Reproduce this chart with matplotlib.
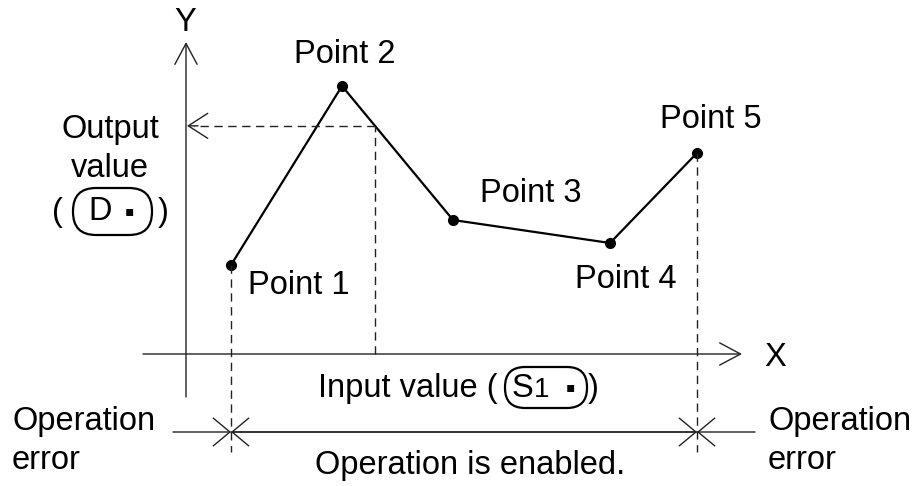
import numpy as np
import matplotlib
matplotlib.use("Agg")
import matplotlib.pyplot as plt
from matplotlib.patches import FancyBboxPatch

plt.rcParams["font.family"] = ["Liberation Sans", "DejaVu Sans"]

# ── DATA (input / output values, origin at axis crossing) ──
point_labels = ["Point 1", "Point 2", "Point 3", "Point 4", "Point 5"]
input_values = [45, 156, 267, 424, 511]
output_values = [89, 268, 134, 111, 201]
lookup_input = 189   # dashed read-out example

FS = 23.5
LW_AX = 1.0

fig = plt.figure(figsize=(9.16, 4.86), dpi=100)
ax = fig.add_axes([0, 0, 1, 1])
ax.set_xlim(-186, 730)
ax.set_ylim(-132, 354)
ax.set_axis_off()

def arrow(x0, y0, x1, y1, hl=0.7, hw=0.45):
    ax.annotate("", xy=(x1, y1), xytext=(x0, y0),
                arrowprops=dict(arrowstyle=f"->,head_length={hl},head_width={hw}",
                                lw=LW_AX, color="#222222", mutation_scale=20,
                                shrinkA=0, shrinkB=0))

# axes
arrow(0, -43, 0, 312, hl=0.75, hw=0.4)
arrow(-43, 0, 556, 0, hl=0.75, hw=0.4)
ax.text(-1, 331, "Y", fontsize=FS, ha="center", va="center")
ax.text(589, -3, "X", fontsize=FS, ha="center", va="center")

# polyline
ax.plot(input_values, output_values, color="black", lw=1.6,
        marker="o", markersize=7, solid_joinstyle="miter")

dash = dict(color="#222222", lw=1.0, dashes=(6, 4))

# read-out dashed lines
out_val = np.interp(lookup_input, input_values, output_values)
ax.plot([lookup_input, lookup_input], [0, out_val], **dash)
ax.plot([lookup_input, 8], [out_val, out_val], **dash)
arrow(12, out_val, 1, out_val, hl=0.7, hw=0.45)

# range limits
x_lo, x_hi = input_values[0], input_values[-1]
ax.plot([x_lo, x_lo], [output_values[0], -98], **dash)
ax.plot([x_hi, x_hi], [output_values[-1], -98], **dash)

# enabled range line with X marks
y_rng = -78
arrow(x_hi, y_rng, x_lo, y_rng, hl=0.6, hw=0.5)
arrow(x_lo, y_rng, x_hi, y_rng, hl=0.6, hw=0.5)
arrow(-13, y_rng, x_lo, y_rng, hl=0.6, hw=0.5)
arrow(569, y_rng, x_hi, y_rng, hl=0.6, hw=0.5)

# point labels
label_pos = [(62, 69, "left"), (159, 299, "center"), (294, 161, "left"),
             (389, 74, "left"), (474, 234, "left")]
for (lx, ly, ha), lab in zip(label_pos, point_labels):
    ax.text(lx, ly, lab, fontsize=FS, ha=ha, va="center")

# output value label
ax.text(-76, 205, "Output\nvalue", fontsize=FS, ha="center", va="center",
        linespacing=1.3)
ax.text(-129, 142, "(", fontsize=FS, ha="center", va="center")
ax.text(-23, 142, ")", fontsize=FS, ha="center", va="center")
ax.add_patch(FancyBboxPatch((-113, 119), 79, 47,
                            boxstyle="round,pad=0,rounding_size=23",
                            fc="none", ec="black", lw=1.6))
ax.text(-86, 142, "D", fontsize=FS, ha="center", va="center")
ax.text(-57, 143, "\u25aa", fontsize=10, ha="center", va="center",
        family=["DejaVu Sans"])

# input value label
ax.text(312, -34, "Input value (", fontsize=FS, ha="right", va="center")
ax.text(407, -34, ")", fontsize=FS, ha="center", va="center")
ax.add_patch(FancyBboxPatch((319, -54), 82, 41,
                            boxstyle="round,pad=0,rounding_size=20",
                            fc="none", ec="black", lw=1.6))
ax.text(347, -43, "S", fontsize=FS, ha="right", va="baseline")
ax.text(348, -43, "1", fontsize=FS * 0.85, ha="left", va="baseline")
ax.text(384, -33, "\u25aa", fontsize=10, ha="center", va="center",
        family=["DejaVu Sans"])

# bottom texts
ax.text(-174, -87, "Operation\nerror", fontsize=FS, ha="left", va="center",
        linespacing=1.32)
ax.text(582, -87, "Operation\nerror", fontsize=FS, ha="left", va="center",
        linespacing=1.32)
ax.text(284, -111, "Operation is enabled.", fontsize=FS, ha="center", va="center")

fig.savefig("out.png", dpi=100)
